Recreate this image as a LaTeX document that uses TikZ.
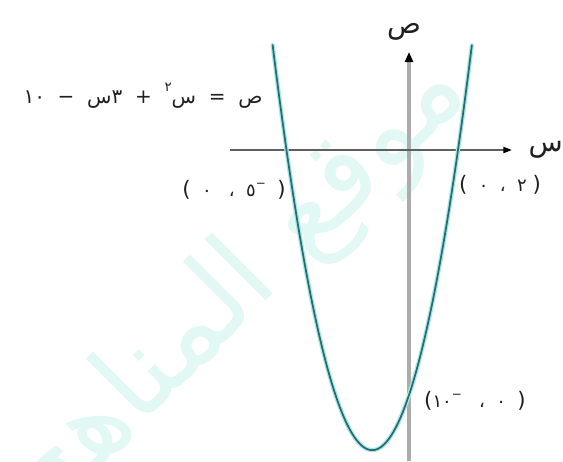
\documentclass[tikz,border=0pt]{standalone}
\usepackage{fontspec}
\newfontfamily\arabicfont[Script=Arabic]{DejaVu Sans}
\newfontfamily\latinfont{DejaVu Sans}
\TeXXeTstate=1
\usetikzlibrary{arrows.meta}
\definecolor{curvecol}{RGB}{45,105,112}
\definecolor{glowcol}{RGB}{165,234,230}
\definecolor{wmcol}{RGB}{226,248,244}
\definecolor{yaxiscol}{RGB}{172,172,172}
\definecolor{xaxiscol}{RGB}{95,95,95}
\newcommand{\lp}{{\latinfont\fontsize{16pt}{17pt}\selectfont(}}
\newcommand{\rp}{{\latinfont\fontsize{16pt}{17pt}\selectfont)}}
\newcommand{\supminus}{\raisebox{0.9ex}{\fontsize{9pt}{10pt}\selectfont −}}
\begin{document}
\begin{tikzpicture}[x=0.75pt,y=-0.75pt,
  lbl/.style={font=\arabicfont\fontsize{13.5pt}{15pt}\selectfont, inner sep=0pt, text=black!88},
  axlbl/.style={font=\arabicfont\fontsize{21pt}{23pt}\selectfont, inner sep=0pt, text=black!88},
  wm/.style={font=\arabicfont\fontsize{85pt}{90pt}\selectfont, inner sep=0pt, text=wmcol},
  yax/.style={draw=yaxiscol, line width=3.6pt, -{Triangle[length=7.5pt,width=6pt,black]}},
  xax/.style={draw=xaxiscol, line width=1.4pt, -{Triangle[length=6.5pt,width=4.5pt,black]}},
  glow/.style={draw=glowcol, line width=3.2pt, line cap=round},
  curve/.style={draw=curvecol, line width=1.3pt, line cap=round}]
\useasboundingbox (0,0) rectangle (563,461);
\fill[white] (0,0) rectangle (563,461);
% watermark
\node[wm, rotate=45] (wmark) at (238,288) {\beginR موقع المناهج\endR};
% axes
\coordinate (ybot) at (409,461);
\coordinate (ytop) at (409,52);
\coordinate (xl) at (230,150);
\coordinate (xr) at (512,150);
\draw[yax] (ybot) -- (ytop);
\draw[xax] (xl) -- (xr);
% parabola y = x^2 + 3x - 10
\draw[glow] plot[domain=-5.566:2.566, samples=120] ({409+24.5*\x},{150-24.5*(\x*\x+3*\x-10)});
\draw[curve] plot[domain=-5.566:2.566, samples=120] ({409+24.5*\x},{150-24.5*(\x*\x+3*\x-10)});
% axis labels
\node[axlbl] (ylab) at (404,32) {ص};
\node[axlbl, anchor=east] (xlab) at (563,150) {س};
% equation
\node[lbl, font=\arabicfont\fontsize{15pt}{17pt}\selectfont] (eq) at (143,96)
  {\hbox{١٠}\ \ −\ \ \hbox{س}\hbox{٣}\ \ +\ \ \hbox{\raisebox{1.1ex}{\fontsize{10pt}{11pt}\selectfont ٢}}\hbox{س}\ \ =\ \ \hbox{ص}};
% point labels
\node[lbl] (pA) at (234,190) {\lp\ \ \hbox{٠}\ \ \ \hbox{،}\ \ \hbox{٥}\supminus\ \ \rp};
\node[lbl] (pB) at (500,185) {\lp\ \ \hbox{٠}\ \ \hbox{،}\ \ \hbox{٢}\ \rp};
\node[lbl] (pC) at (475,401) {\lp\hbox{١٠}\supminus\ \ \ \hbox{،}\ \ \hbox{٠}\ \ \rp};
\end{tikzpicture}
\end{document}
